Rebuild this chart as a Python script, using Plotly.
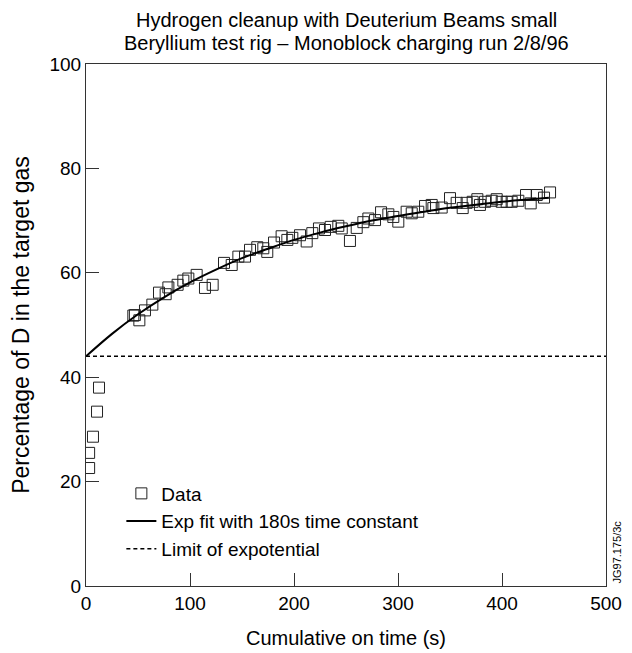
import plotly.graph_objects as go

# Data points (time in s, percentage of D)
data_t = [3, 3, 6.7, 10.6, 12.5,
          45.5, 47, 51.3, 56.7, 63.8, 70.2, 76.6, 79.2, 88.1, 93.6, 98.4,
          106.4, 114.4, 121.8, 132.7, 140.1, 146.5, 152.9, 157.7, 164.7,
          170.5, 174.3, 180.8, 188.1, 193.6, 198.4, 205.8, 212.2, 217.6,
          224, 229.8, 235.3, 242.6, 245.9, 253.8, 260.3, 266.7, 271.5,
          277.9, 283.7, 290.7, 295.5, 300.3, 308.3, 313.2, 319.5, 326,
          332.4, 334, 342, 350, 356.4, 362.2, 366, 371.8, 376.3, 378.8,
          383.7, 390.1, 394.9, 399.7, 404.5, 409.3, 415.7, 423.1, 427.6,
          433.4, 440.4, 446.2]
data_v = [22.6, 25.5, 28.6, 33.4, 38.0,
          51.8, 51.9, 50.9, 52.8, 53.9, 56.2, 55.9, 57.2, 57.7, 58.5, 58.9,
          59.6, 57.1, 57.7, 61.9, 61.5, 63.1, 63.1, 64.4, 64.9,
          64.7, 64.0, 65.8, 67.0, 66.3, 66.7, 67.2, 66.0, 67.6,
          68.5, 68.2, 68.8, 69.0, 68.5, 66.1, 68.6, 69.7, 70.4,
          70.1, 71.6, 71.2, 70.7, 69.8, 71.7, 71.4, 71.7, 72.8,
          73.0, 72.4, 72.5, 74.3, 73.4, 72.4, 73.4, 73.6, 74.1, 73.0,
          73.6, 73.8, 74.1, 73.6, 73.6, 73.6, 73.8, 74.9, 73.3,
          74.9, 74.4, 75.4]

# Fit curve values
fit_t = [0, 25, 50, 75, 100, 125, 150, 175, 200, 225, 250, 275, 300,
         325, 350, 375, 400, 425, 445]
fit_v = [44.0, 48.3, 52.05, 55.3, 58.15, 60.6, 62.8, 64.6, 66.3, 67.7,
         68.9, 70.0, 70.9, 71.7, 72.45, 73.05, 73.6, 74.05, 74.4]

# Limit of the exponential
limit_t = [0, 500]
limit_v = [44, 44]

x_ticks = [0, 100, 200, 300, 400, 500]
y_ticks = [0, 20, 40, 60, 80, 100]

title_lines = ["Hydrogen cleanup with Deuterium Beams small",
               "Beryllium test rig \u2013 Monoblock charging run 2/8/96"]

FONT = "Liberation Sans, Arial, sans-serif"

fig = go.Figure()
fig.add_trace(go.Scatter(
    x=data_t, y=data_v, mode="markers", name="Data",
    marker=dict(symbol="square-open", size=11, color="#222",
                line=dict(width=1, color="#222")),
))
fig.add_trace(go.Scatter(
    x=fit_t, y=fit_v, mode="lines", name="Exp fit with 180s time constant",
    line=dict(color="black", width=2, shape="spline"),
))
fig.add_trace(go.Scatter(
    x=limit_t, y=limit_v, mode="lines", name="Limit of expotential",
    line=dict(color="black", width=1.5, dash="4px,3px"),
))

axis_common = dict(
    showgrid=False, zeroline=False, showline=True, linecolor="#333",
    linewidth=1, mirror=True, ticks="inside", ticklen=13, tickwidth=1,
    tickcolor="#333", tickfont=dict(size=19, color="black", family=FONT),
    automargin=False,
)

# The page body adds an 8px offset, so the figure is 8px smaller
fig.update_layout(
    width=624, height=645,
    margin=dict(l=78, r=26, t=56, b=67),
    paper_bgcolor="white", plot_bgcolor="white",
    font=dict(family=FONT, color="black", size=19),
    xaxis=dict(range=[0, 500], tickvals=x_ticks,
               title=dict(text="Cumulative on time (s)", standoff=18,
                          font=dict(size=20)),
               **axis_common),
    yaxis=dict(range=[0, 100], tickvals=y_ticks,
               title=dict(text="Percentage of D in the target gas",
                          standoff=16, font=dict(size=23)),
               **axis_common),
    legend=dict(x=0.068, y=0.0335, xanchor="left", yanchor="bottom",
                bgcolor="rgba(0,0,0,0)", font=dict(size=19, family=FONT),
                tracegroupgap=0),
    showlegend=True,
)

for i, line in enumerate(title_lines):
    fig.add_annotation(
        text=line, xref="paper", yref="paper", x=0.5, y=1.0,
        xanchor="center", yanchor="middle", yshift=44 - 23 * i,
        showarrow=False, font=dict(size=20, family=FONT, color="black"),
    )

fig.add_annotation(
    text="JG97.175/3c", xref="paper", yref="paper", x=1.0, y=0.0,
    xanchor="left", yanchor="bottom", xshift=2, showarrow=False,
    textangle=-90, font=dict(size=11, family=FONT, color="black"),
)

fig.write_html("out.html")
